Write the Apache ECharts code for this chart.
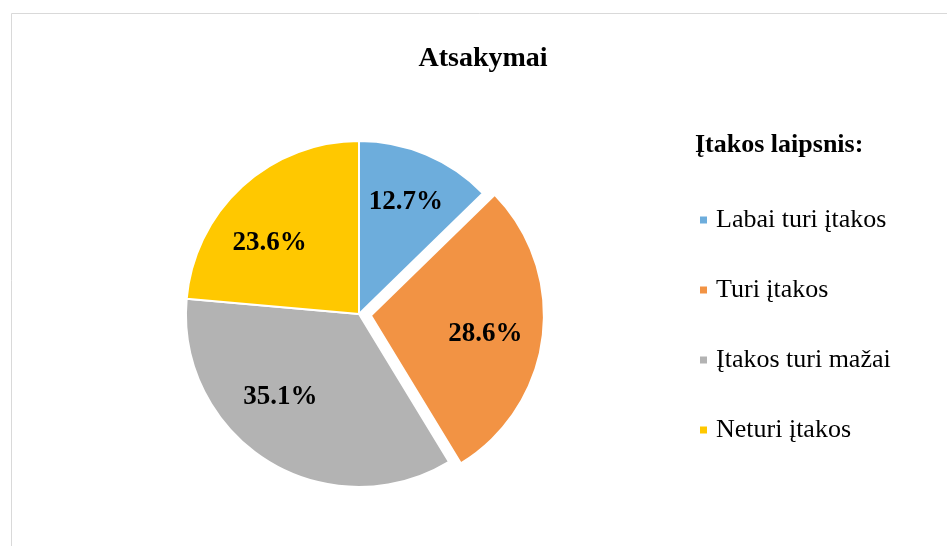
<!DOCTYPE html>
<html>
<head>
<meta charset="utf-8">
<script src="https://cdn.jsdelivr.net/npm/echarts@6/dist/echarts.min.js"></script>
<style>
html,body{margin:0;padding:0;background:#fff;}
#c{width:947px;height:546px;}
</style>
</head>
<body>
<div id="c"></div>
<script>
const chartTitle = 'Atsakymai';
const legendTitle = 'Įtakos laipsnis:';
const categories = ['Labai turi įtakos', 'Turi įtakos', 'Įtakos turi mažai', 'Neturi įtakos'];
const values = [12.7, 28.6, 35.1, 23.6];
const colors = ['#6daddc', '#f29344', '#b3b3b3', '#ffc800'];
const explodedIndex = 1;

const FONT = '"Liberation Serif", "Times New Roman", serif';
const center = [359, 314];
const R = 173;
// label placement nudges (style only)
const labelNudges = [[0, -1], [-5, 3], [-15, -19], [-8, 18]];

const chart = echarts.init(document.getElementById('c'), null, {renderer: 'canvas'});

const mainData = categories.map((n, i) => ({
  name: n, value: values[i], selected: i === explodedIndex,
  itemStyle: {color: colors[i]}
}));
const labelData = categories.map((n, i) => ({
  name: n, value: values[i], selected: i === explodedIndex,
  label: {offset: labelNudges[i]},
  select: {label: {offset: labelNudges[i]}}
}));

chart.setOption({
  animation: false,
  backgroundColor: '#fff',
  graphic: [{
    type: 'rect', left: 9, top: 11, silent: true,
    shape: {x: 0, y: 0, width: 1000, height: 600},
    style: {fill: 'none', stroke: '#d9d9d9', lineWidth: 1}
  }],
  title: [{
    text: chartTitle, left: 483, top: 45, textAlign: 'center', padding: 0,
    textStyle: {fontFamily: FONT, fontWeight: 'bold', fontSize: 28, color: '#000'}
  }, {
    text: legendTitle, left: 695, top: 132, padding: 0,
    textStyle: {fontFamily: FONT, fontWeight: 'bold', fontSize: 26, color: '#000'}
  }],
  legend: {
    orient: 'vertical', left: 698, top: 207, padding: 0,
    icon: 'rect', itemWidth: 9, itemHeight: 9, itemGap: 44,
    selectedMode: false,
    data: categories,
    textStyle: {fontFamily: FONT, fontSize: 26, lineHeight: 26, color: '#000', padding: [0, 0, 0, 3]}
  },
  series: [{
    type: 'pie', center: center, radius: [0, R],
    startAngle: 90, clockwise: true,
    selectedMode: 'single', selectedOffset: 12,
    silent: true,
    itemStyle: {borderColor: '#fff', borderWidth: 2},
    label: {show: false}, labelLine: {show: false},
    emphasis: {disabled: true},
    data: mainData
  }, {
    type: 'pie', center: center, radius: [62, R],
    startAngle: 90, clockwise: true,
    selectedMode: 'single', selectedOffset: 12,
    silent: true,
    itemStyle: {color: 'rgba(0,0,0,0)', borderWidth: 0},
    label: {
      show: true, position: 'inside',
      formatter: p => p.value.toFixed(1) + '%',
      fontFamily: FONT, fontWeight: 'bold', fontSize: 27, color: '#000'
    },
    labelLine: {show: false},
    emphasis: {disabled: true},
    data: labelData
  }]
});
</script>
</body>
</html>
